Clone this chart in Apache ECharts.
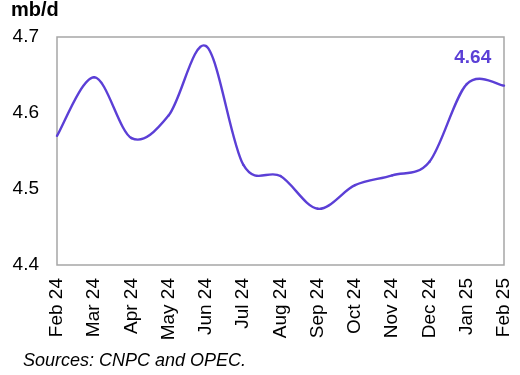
<!DOCTYPE html>
<html><head><meta charset="utf-8">
<script src="https://cdn.jsdelivr.net/npm/echarts@6/dist/echarts.min.js"></script>
<style>html,body{margin:0;padding:0;background:#fff}#c{width:520px;height:375px}</style>
</head><body><div id="c"></div>
<script>
var categories = ['Feb 24','Mar 24','Apr 24','May 24','Jun 24','Jul 24','Aug 24','Sep 24','Oct 24','Nov 24','Dec 24','Jan 25','Feb 25'];
var values = [4.570,4.647,4.567,4.597,4.688,4.532,4.517,4.474,4.505,4.518,4.536,4.638,4.636];
var yTicks = [4.4,4.5,4.6,4.7];
var latestLabel = '4.64';
var labelIndex = 11;
var color = '#5b3fd6';
var font = 'Liberation Sans, Arial, sans-serif';
var chart = echarts.init(document.getElementById('c'));
function renderCurve(params, api){
  if(params.dataIndex !== 0) return null;
  var pts = values.map(function(v,i){ return api.coord([i, v]); });
  var kids = [];
  var n = pts.length;
  for(var i=0;i<n-1;i++){
    var p0 = pts[Math.max(i-1,0)], p1 = pts[i], p2 = pts[i+1], p3 = pts[Math.min(i+2,n-1)];
    kids.push({type:'bezierCurve',shape:{
      x1:p1[0],y1:p1[1],
      cpx1:p1[0]+(p2[0]-p0[0])/6, cpy1:p1[1]+(p2[1]-p0[1])/6,
      cpx2:p2[0]-(p3[0]-p1[0])/6, cpy2:p2[1]-(p3[1]-p1[1])/6,
      x2:p2[0],y2:p2[1]},
      style:{stroke:color,lineWidth:2.4,fill:null,lineCap:'round'}});
  }
  var lp = pts[labelIndex];
  kids.push({type:'text',x:lp[0]+6,y:lp[1]-26,style:{text:latestLabel,fill:color,font:'bold 19px '+font,align:'center',verticalAlign:'middle'}});
  return {type:'group',children:kids};
}
chart.setOption({
  animation:false,
  grid:{left:57,right:16,top:37,bottom:110,show:true,borderColor:'#a6a6a6',borderWidth:1.5,containLabel:false},
  title:[
    {text:'mb/d',left:11,top:0,padding:0,textStyle:{fontFamily:font,fontSize:20,fontWeight:'bold',color:'#000'}},
    {text:'Sources: CNPC and OPEC.',left:23,top:352,padding:0,textStyle:{fontFamily:font,fontSize:18,fontStyle:'italic',fontWeight:'normal',color:'#000'}}
  ],
  xAxis:{type:'category',data:categories,boundaryGap:false,
    axisLine:{show:false},axisTick:{show:false},splitLine:{show:false},
    axisLabel:{rotate:90,interval:0,margin:13,fontFamily:font,fontSize:19,color:'#000'}},
  yAxis:{type:'value',min:yTicks[0],max:yTicks[yTicks.length-1],interval:0.1,
    axisLine:{show:false},axisTick:{show:false},splitLine:{show:false},
    axisLabel:{margin:18,fontFamily:font,fontSize:19,color:'#000',formatter:function(v){return v.toFixed(1);}}},
  series:[{type:'custom',renderItem:renderCurve,clip:false,
    encode:{x:0,y:1},
    data:values.map(function(v,i){return [i,v];})}]
});
</script></body></html>
